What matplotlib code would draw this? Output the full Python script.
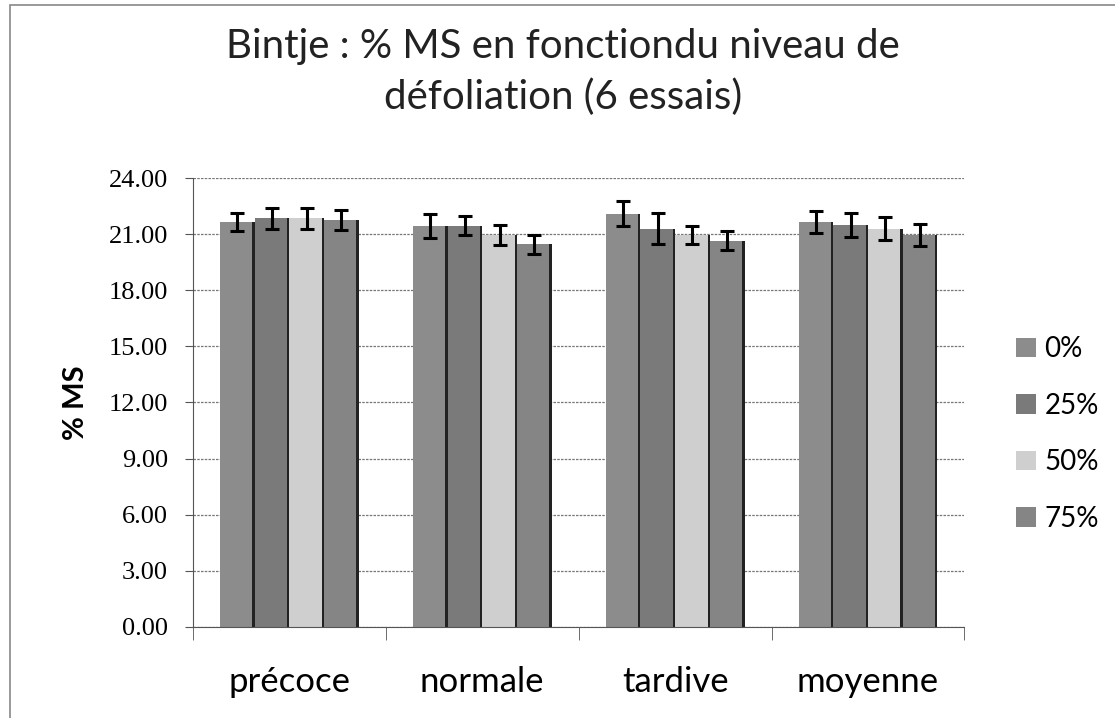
import numpy as np
import matplotlib.pyplot as plt
from matplotlib.patches import Rectangle

categories = ['précoce', 'normale', 'tardive', 'moyenne']
series = ['0%', '25%', '50%', '75%']
# % MS per series (one value per category)
ms_0 = [21.65, 21.45, 22.10, 21.65]
ms_25 = [21.85, 21.45, 21.30, 21.50]
ms_50 = [21.85, 20.95, 20.95, 21.30]
ms_75 = [21.75, 20.45, 20.65, 20.95]
err_0 = [0.50, 0.65, 0.65, 0.60]
err_25 = [0.55, 0.50, 0.85, 0.65]
err_50 = [0.55, 0.55, 0.50, 0.60]
err_75 = [0.55, 0.50, 0.50, 0.60]
yticks = [0, 3, 6, 9, 12, 15, 18, 21, 24]

data = [ms_0, ms_25, ms_50, ms_75]
errs = [err_0, err_25, err_50, err_75]
colors = ['#8c8c8c', '#7a7a7a', '#cfcfcf', '#858585']

fig = plt.figure(figsize=(11.15, 7.18), dpi=100)
fig.patches.append(Rectangle((0.009, -0.01), 1.2, 1.003, transform=fig.transFigure,
                             fill=False, edgecolor='#888888', linewidth=1.2))
ax = fig.add_axes([0.173, 0.127, 0.692, 0.625])

x = np.arange(len(categories))
w = 0.18
for i in range(4):
    pos = x + (i - 1.5) * w
    ax.bar(pos, data[i], w, color=colors[i], edgecolor='none', label=series[i], zorder=2)
    # dark shadow on the right edge of each bar
    ax.bar(pos + w / 2 - 0.006, data[i], 0.012, color='#222222', zorder=2)
    ax.errorbar(pos, data[i], yerr=errs[i], fmt='none', ecolor='black',
                elinewidth=2.2, capsize=5, capthick=2.2, zorder=3)

ax.set_xlim(-0.5, 3.5)
ax.set_ylim(0, 24)
ax.set_yticks(yticks)
ax.set_yticklabels(['%.2f' % t for t in yticks], fontfamily='Liberation Serif', fontsize=19)
ax.yaxis.grid(True, linestyle=(0, (2, 1)), color='#777777', linewidth=0.9)
ax.set_axisbelow(True)
ax.set_xticks(x)
ax.set_xticklabels(categories, fontsize=25, fontfamily='Lato')
ax.tick_params(axis='x', length=0, pad=28)
ax.set_xticks(np.arange(-0.5, 4.0, 1.0), minor=True)
ax.tick_params(axis='x', which='minor', length=9, direction='out', color='#555555')
ax.tick_params(axis='y', length=6, direction='out', color='#555555', pad=12)
for s in ['top', 'right']:
    ax.spines[s].set_visible(False)
ax.spines['left'].set_color('#555555')
ax.spines['bottom'].set_color('#555555')

ax.set_ylabel('% MS', fontsize=21, fontweight='bold', fontfamily='Lato', labelpad=14)

fig.text(0.505, 0.90, 'Bintje : % MS en fonctiondu niveau de\ndéfoliation (6 essais)',
         ha='center', va='center', fontsize=29, fontfamily='Lato', linespacing=1.45,
         color='#222222')

ax.legend(loc='center left', bbox_to_anchor=(1.035, 0.43), frameon=False,
          labelspacing=1.1, handlelength=0.7, handleheight=0.7,
          handletextpad=0.3, prop={'family': 'Lato', 'size': 20})

fig.savefig('out.png', dpi=100)
